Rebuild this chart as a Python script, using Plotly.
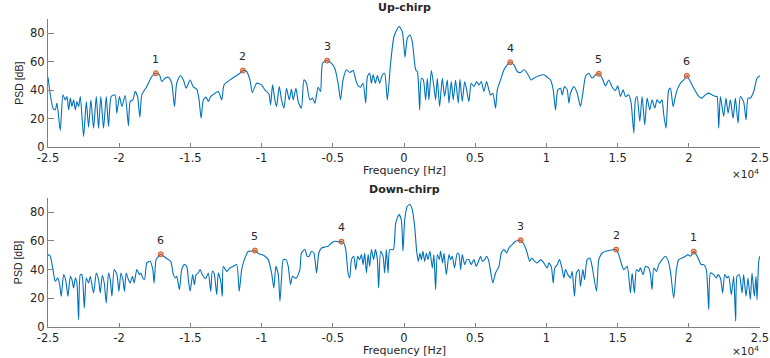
import plotly.graph_objects as go
from plotly.subplots import make_subplots

# ---------------- data (frequency in units of 1e4 Hz, PSD in dB) ----------------
up_freq = [-2.500,-2.465,-2.449,-2.437,-2.414,-2.395,-2.379,-2.367,-2.355,-2.343,-2.332,-2.320,-2.308,-2.297,-2.285,-2.273,
 -2.250,-2.231,-2.215,-2.199,-2.180,-2.161,-2.145,-2.129,-2.110,-2.091,-2.075,-2.056,-2.029,-2.017,-1.998,-1.981,-1.958,
 -1.935,-1.923,-1.904,-1.888,-1.871,-1.855,-1.841,-1.806,-1.771,-1.743,-1.717,-1.701,-1.678,-1.654,-1.631,-1.612,-1.596,
 -1.572,-1.549,-1.530,-1.502,-1.479,-1.456,-1.439,-1.425,-1.409,-1.390,-1.374,-1.357,-1.327,-1.304,-1.280,-1.264,-1.222,
 -1.187,-1.152,-1.131,-1.105,-1.082,-1.065,-1.035,-1.000,-0.977,-0.949,-0.937,-0.923,-0.907,-0.895,-0.876,-0.860,-0.843,
 -0.825,-0.806,-0.790,-0.778,-0.759,-0.743,-0.720,-0.703,-0.685,-0.661,-0.643,-0.626,-0.603,-0.586,-0.572,-0.540,-0.509,
 -0.486,-0.463,-0.446,-0.428,-0.404,-0.381,-0.357,-0.339,-0.322,-0.306,-0.287,-0.269,-0.257,-0.241,-0.229,-0.217,-0.201,
 -0.187,-0.171,-0.152,-0.136,-0.117,-0.094,-0.070,-0.035,-0.012,0.007,0.023,0.042,0.058,0.082,0.094,0.110,0.122,0.136,
 0.152,0.164,0.175,0.192,0.210,0.222,0.234,0.250,0.269,0.285,0.304,0.316,0.332,0.346,0.362,0.381,0.393,0.409,0.426,0.440,
 0.456,0.472,0.491,0.510,0.526,0.543,0.561,0.580,0.596,0.608,0.624,0.643,0.655,0.678,0.702,0.725,0.746,0.772,0.795,0.819,
 0.842,0.865,0.893,0.912,0.947,0.982,1.006,1.029,1.048,1.064,1.080,1.099,1.111,1.127,1.146,1.158,1.169,1.193,1.216,1.239,
 1.256,1.275,1.298,1.321,1.345,1.368,1.392,1.415,1.438,1.462,1.485,1.501,1.520,1.539,1.555,1.579,1.595,1.614,1.625,1.637,
 1.656,1.672,1.691,1.707,1.726,1.742,1.761,1.777,1.796,1.812,1.824,1.840,1.859,1.871,1.890,1.906,1.918,1.941,1.964,1.986,
 2.011,2.035,2.070,2.093,2.116,2.140,2.163,2.187,2.198,2.210,2.222,2.245,2.261,2.276,2.292,2.311,2.327,2.346,2.362,2.385,
 2.402,2.416,2.432,2.456,2.479,2.498]
up_psd = [49.1,27.4,26.2,30.9,11.7,36.7,33.2,35.6,26.2,34.4,28.5,33.2,26.2,32.0,28.5,35.6,
 7.5,32.0,14.0,33.2,13.3,35.6,13.3,35.6,13.3,35.6,14.5,35.6,36.7,23.9,35.6,28.5,36.3,
 15.0,32.0,33.2,39.1,35.6,21.1,36.7,42.6,49.6,51.9,50.8,46.1,48.4,49.1,44.9,28.5,44.9,
 50.1,47.2,41.4,47.2,42.1,40.7,33.2,20.3,33.2,35.1,32.0,35.6,37.9,39.1,33.2,43.7,47.2,
 49.6,51.9,53.8,53.1,47.2,38.4,44.9,43.7,40.2,37.4,29.7,43.7,33.2,28.5,42.6,33.2,27.4,
 41.4,33.2,40.7,33.2,41.4,32.0,27.4,47.2,44.9,33.2,34.4,30.9,42.1,39.1,58.9,60.8,58.9,
 55.4,44.9,33.2,47.2,54.3,52.4,53.8,47.2,43.0,42.1,44.9,30.9,49.6,51.9,44.9,50.8,44.9,
 50.3,44.9,50.8,51.9,33.2,58.9,77.7,84.7,81.2,63.2,76.5,78.8,74.1,54.3,53.1,26.2,48.4,47.2,
 33.2,48.4,33.2,53.8,42.6,33.2,48.4,28.5,48.4,35.6,47.2,30.9,46.1,33.2,47.2,30.9,47.7,32.0,46.1,40.2,
 32.0,44.9,42.6,46.1,43.7,46.1,39.1,46.1,40.2,36.7,37.9,27.4,40.2,47.2,54.3,57.8,59.6,57.8,53.1,52.4,
 54.3,51.9,47.2,48.4,50.1,50.8,49.1,47.2,40.2,26.2,40.2,41.4,36.7,42.6,40.2,30.9,37.9,42.6,37.9,28.5,
 37.9,49.6,51.9,48.4,50.8,51.5,48.4,43.0,47.2,42.1,39.8,43.0,35.6,40.2,35.6,36.7,30.9,9.8,33.2,35.6,
 18.0,35.6,15.7,34.4,26.2,33.2,27.4,33.2,30.9,33.2,22.7,13.3,40.2,41.4,28.5,35.6,40.2,44.9,47.2,50.1,
 46.1,41.4,35.6,34.4,36.7,37.9,36.7,35.6,35.6,13.3,35.6,21.5,34.4,23.9,33.2,20.3,34.4,16.8,35.6,32.0,
 19.2,34.4,34.4,39.1,48.4,50.1]

down_freq = [-2.500,-2.484,-2.465,-2.449,-2.432,-2.418,-2.407,-2.390,-2.374,-2.360,-2.343,-2.332,-2.320,-2.308,-2.297,-2.285,
 -2.273,-2.262,-2.245,-2.231,-2.215,-2.203,-2.180,-2.161,-2.145,-2.133,-2.119,-2.105,-2.091,-2.075,-2.063,-2.051,-2.035,
 -2.016,-2.002,-1.988,-1.974,-1.963,-1.951,-1.935,-1.923,-1.907,-1.895,-1.876,-1.857,-1.848,-1.834,-1.822,-1.806,-1.783,
 -1.764,-1.755,-1.741,-1.724,-1.708,-1.689,-1.671,-1.654,-1.638,-1.619,-1.605,-1.596,-1.577,-1.561,-1.542,-1.526,-1.514,
 -1.502,-1.484,-1.472,-1.460,-1.444,-1.432,-1.416,-1.400,-1.390,-1.374,-1.357,-1.346,-1.334,-1.315,-1.304,-1.287,-1.276,
 -1.269,-1.245,-1.222,-1.199,-1.175,-1.157,-1.140,-1.121,-1.093,-1.065,-1.047,-1.023,-1.000,-0.977,-0.953,-0.930,-0.914,
 -0.900,-0.883,-0.871,-0.860,-0.848,-0.829,-0.813,-0.797,-0.783,-0.766,-0.755,-0.731,-0.720,-0.696,-0.680,-0.666,-0.650,
 -0.633,-0.614,-0.598,-0.579,-0.556,-0.533,-0.509,-0.486,-0.463,-0.439,-0.423,-0.409,-0.393,-0.381,-0.369,-0.353,-0.339,
 -0.325,-0.311,-0.299,-0.287,-0.276,-0.264,-0.252,-0.241,-0.229,-0.213,-0.201,-0.187,-0.178,-0.164,-0.147,-0.136,-0.124,
 -0.112,-0.100,-0.075,-0.058,-0.035,-0.019,-0.007,0.005,0.023,0.042,0.058,0.077,0.089,0.101,0.112,0.122,0.133,0.145,0.157,
 0.168,0.182,0.199,0.210,0.222,0.234,0.248,0.257,0.271,0.281,0.297,0.316,0.327,0.339,0.355,0.374,0.386,0.398,0.409,0.426,
 0.440,0.456,0.472,0.491,0.507,0.519,0.538,0.550,0.566,0.580,0.596,0.608,0.624,0.643,0.667,0.683,0.702,0.720,0.737,0.760,
 0.783,0.819,0.837,0.849,0.865,0.882,0.896,0.917,0.935,0.959,0.982,1.006,1.017,1.034,1.048,1.059,1.076,1.092,1.111,1.123,
 1.134,1.151,1.169,1.181,1.197,1.211,1.228,1.239,1.256,1.268,1.286,1.305,1.321,1.352,1.368,1.392,1.415,1.450,1.473,1.490,
 1.508,1.525,1.543,1.567,1.590,1.602,1.618,1.632,1.649,1.660,1.679,1.696,1.719,1.731,1.742,1.754,1.773,1.789,1.812,1.836,
 1.852,1.871,1.894,1.913,1.929,1.953,1.976,1.993,2.011,2.028,2.035,2.053,2.070,2.086,2.105,2.123,2.140,2.152,2.175,2.194,
 2.205,2.222,2.238,2.252,2.268,2.280,2.299,2.315,2.329,2.339,2.355,2.374,2.385,2.402,2.416,2.432,2.444,2.460,2.472,2.479,
 2.491,2.498]
down_psd = [50.5,49.3,40.0,31.9,34.2,29.5,21.4,36.5,31.9,21.4,35.4,33.0,27.2,34.2,30.7,5.1,
 36.5,36.5,13.3,34.2,30.7,35.4,23.7,37.7,33.0,23.7,35.8,30.7,16.7,37.7,33.0,21.4,40.0,
 36.5,24.9,37.7,33.0,24.9,37.7,33.0,30.7,35.4,30.7,40.0,36.5,37.7,34.2,33.0,44.7,45.8,
 40.0,30.7,47.0,49.3,50.7,49.3,48.1,47.0,45.8,36.5,34.2,35.4,26.1,40.0,43.5,42.3,33.0,
 24.9,36.5,29.5,36.5,37.7,40.0,36.5,34.2,34.2,37.7,24.9,38.8,37.7,22.6,37.7,31.9,21.4,
 42.3,38.8,41.2,42.3,43.5,24.9,40.0,47.0,52.8,52.8,53.3,51.2,50.5,49.3,47.0,37.7,27.2,
 42.3,36.5,17.9,34.2,47.0,47.0,42.3,29.5,35.4,34.2,34.2,40.0,51.6,54.0,49.3,49.3,52.8,
 51.6,37.7,51.6,55.1,55.8,56.3,58.6,59.8,59.5,59.5,58.6,54.0,37.7,34.2,47.0,49.3,40.0,
 49.3,47.0,50.5,43.5,51.6,37.7,50.5,42.3,54.0,47.0,54.0,47.0,27.2,52.8,49.3,37.7,54.0,
 37.7,54.0,54.0,72.6,78.4,74.9,52.8,74.9,84.2,85.4,81.9,67.9,52.8,45.8,51.6,47.0,52.8,45.8,51.6,
 47.0,52.8,41.2,50.5,26.1,50.5,47.0,52.8,44.7,51.6,36.5,50.5,47.0,49.3,41.2,51.6,50.5,40.0,50.5,43.5,
 47.0,47.0,43.5,47.0,42.3,44.7,49.3,45.8,47.0,49.3,45.8,38.8,30.7,37.7,42.3,51.6,54.0,51.6,55.1,57.5,
 59.8,60.5,58.6,56.3,51.6,45.8,48.1,45.8,44.7,47.0,44.7,41.2,44.7,42.3,30.7,41.2,43.5,47.0,40.0,34.2,
 40.0,36.5,34.2,38.8,21.4,37.7,40.0,28.4,40.0,33.0,47.0,48.1,42.3,24.9,47.0,51.6,52.8,53.5,54.0,54.0,
 50.5,44.7,40.0,42.3,23.7,37.7,23.7,40.0,38.8,41.2,36.5,42.3,41.2,36.5,26.1,41.2,38.8,43.5,47.0,49.3,
 47.0,38.8,20.2,40.0,47.0,48.1,49.3,50.5,49.3,51.6,52.6,50.5,47.0,43.5,43.5,40.0,12.1,37.7,36.5,34.2,
 36.5,34.2,23.7,36.5,34.2,35.4,22.6,35.4,4.0,35.4,36.5,23.7,36.5,21.4,34.2,19.1,37.7,21.4,35.4,19.1,
 45.8,49.3]

up_peak_freq = [-1.743, -1.131, -0.540, 0.746, 1.368, 1.986]
up_peak_psd = [51.9, 53.8, 60.8, 59.6, 51.5, 50.1]
up_peak_labels = ["1", "2", "3", "4", "5", "6"]

down_peak_freq = [-1.708, -1.047, -0.439, 0.819, 1.490, 2.035]
down_peak_psd = [50.7, 53.3, 59.5, 60.5, 54.0, 52.6]
down_peak_labels = ["6", "5", "4", "3", "2", "1"]

x_ticks = [-2.5, -2, -1.5, -1, -0.5, 0, 0.5, 1, 1.5, 2, 2.5]
x_tick_text = ["-2.5", "-2", "-1.5", "-1", "-0.5", "0", "0.5", "1", "1.5", "2", "2.5"]
y_ticks = [0, 20, 40, 60, 80]

# ---------------- figure ----------------
FONT = "DejaVu Sans, Liberation Sans, Arial, sans-serif"
VFONT = "Liberation Sans, Arial, Helvetica, sans-serif"
LINE_C = "#0072BD"
MARK_C = "#D95319"
AX_C = "#808080"
TXT_C = "#262626"

fig = make_subplots(rows=2, cols=1, vertical_spacing=0.0)

panels = [
    (1, up_freq, up_psd, up_peak_freq, up_peak_psd, up_peak_labels),
    (2, down_freq, down_psd, down_peak_freq, down_peak_psd, down_peak_labels),
]
for row, fx, fy, px, py, pl in panels:
    fig.add_trace(go.Scatter(x=fx, y=fy, mode="lines",
                             line=dict(color=LINE_C, width=1.1, shape="spline", smoothing=0.6),
                             showlegend=False, hoverinfo="skip"), row=row, col=1)
    fig.add_trace(go.Scatter(x=px, y=py, mode="markers",
                             marker=dict(size=5, color="rgba(217,83,25,0.5)",
                                         line=dict(color=MARK_C, width=1)),
                             showlegend=False, hoverinfo="skip"), row=row, col=1)
    xref = "x" if row == 1 else "x2"
    yref = "y" if row == 1 else "y2"
    for fxv, fyv, lab in zip(px, py, pl):
        fig.add_annotation(x=fxv, y=fyv, xref=xref, yref=yref, text=lab, showarrow=False,
                           yshift=14, font=dict(family=FONT, size=11, color=TXT_C))

axis_common = dict(showline=True, linecolor=AX_C, linewidth=1, mirror=False,
                   ticks="inside", tickcolor=AX_C, showgrid=False, zeroline=False,
                   automargin=False,
                   tickfont=dict(family=FONT, size=11.5, color=TXT_C))

fig.update_xaxes(range=[-2.5, 2.5], tickvals=x_ticks, ticktext=x_tick_text, ticklen=4,
                 **axis_common)
fig.update_yaxes(range=[0, 90], tickvals=y_ticks, ticklen=6, **axis_common)

fig.update_layout(
    xaxis=dict(domain=[0, 1]),
    xaxis2=dict(domain=[0, 1]),
    yaxis=dict(domain=[0.584, 1.0]),
    yaxis2=dict(domain=[0.0, 0.419]),
    width=770, height=358,
    margin=dict(l=48, r=10, t=19, b=31, autoexpand=False),
    paper_bgcolor="white", plot_bgcolor="white",
    font=dict(family=FONT, color=TXT_C),
)

# titles, axis labels, exponent labels
texts = [
    dict(x=0.5, y=1.036, text="<b>Up-chirp</b>"),
    dict(x=0.5, y=0.445, text="<b>Down-chirp</b>"),
    dict(x=0.5, y=0.5065, text="Frequency [Hz]"),
    dict(x=0.5, y=-0.075, text="Frequency [Hz]"),
]
for t in texts:
    fig.add_annotation(x=t["x"], y=t["y"], xref="paper", yref="paper", text=t["text"],
                       showarrow=False, xanchor="center", yanchor="middle",
                       font=dict(family=FONT, size=11, color=TXT_C))
for yy in [0.497, -0.077]:
    fig.add_annotation(x=1.0, y=yy, xref="paper", yref="paper", text="\u00d710<sup>4</sup>",
                       showarrow=False, xanchor="right", yanchor="middle", borderpad=0,
                       font=dict(family=FONT, size=10.5, color=TXT_C))
for yy in [0.792, 0.21]:
    fig.add_annotation(x=-0.041, y=yy, xref="paper", yref="paper", text="PSD [dB]",
                       textangle=-90, showarrow=False, xanchor="center", yanchor="middle",
                       font=dict(family=VFONT, size=10.5, color=TXT_C))

fig.write_html("out.html", config={"displayModeBar": False},
               post_script="document.body.style.margin='0';")
